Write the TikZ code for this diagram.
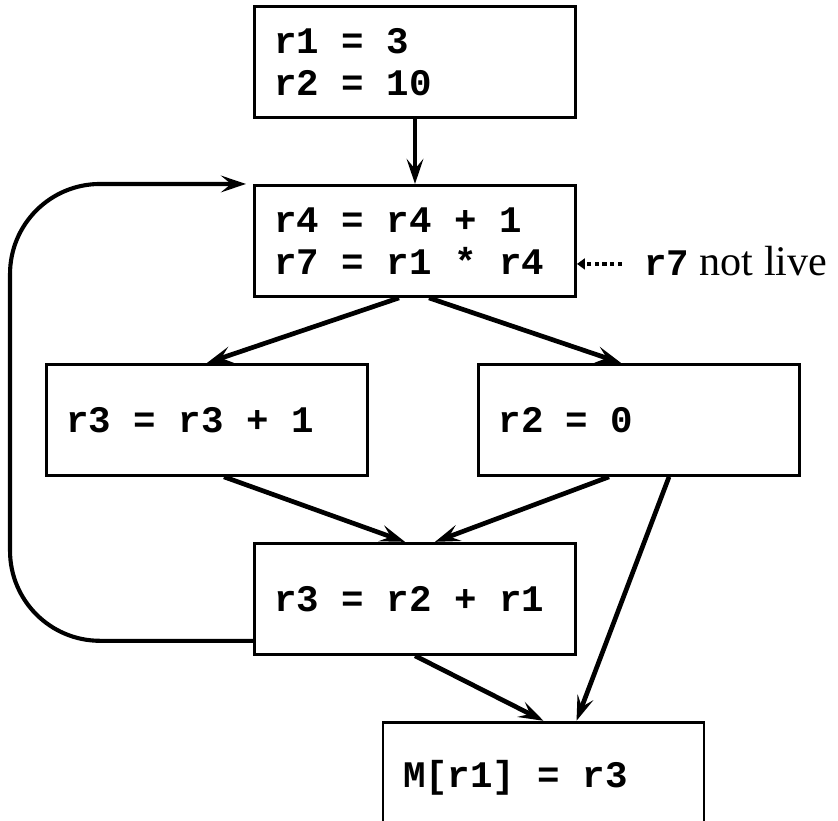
\documentclass[tikz,border=0pt]{standalone}
\usepackage{fontspec}
\setmainfont{Liberation Serif}
\setmonofont{Liberation Mono}
\usetikzlibrary{positioning,arrows.meta,calc}
\protected\def\codefont{\fontsize{32}{36}\selectfont\ttfamily\bfseries}
\newcommand{\sk}{\hspace{0.6em}}

\begin{document}
\begin{tikzpicture}[x=0.03cm, y=-0.03cm, node distance=1.95cm,
  font=\fontsize{32}{36}\selectfont,
  blk/.style={draw, line width=2.5pt, minimum width=9.63cm, minimum height=3.33cm,
    text width=8.43cm, inner xsep=0.6cm, align=left, font=\codefont},
  arr/.style={-{Stealth[length=0.75cm, width=0.5cm, inset=0.3cm]}, line width=4pt},
  back/.style={arr, line width=3.5pt, rounded corners=2.7cm},
  note/.style={-{Triangle[length=0.24cm, width=0.33cm]}, line width=3.6pt, dash pattern=on 3.6pt off 3pt}]
\useasboundingbox (0,0) rectangle (838,821);
\clip (0,0) rectangle (838,821);
\node[blk] (b1) at (415,62) {r1\sk=\sk3\\r2\sk=\sk10};
\node[blk, below=of b1] (b2) {r4\sk=\sk r4\sk+\sk1\\r7\sk=\sk r1\sk*\sk r4};
\node[blk, below=of b2, xshift=-6.24cm] (b3) {r3\sk=\sk r3\sk+\sk1};
\node[blk, below=of b2, xshift=6.72cm]  (b4) {r2\sk=\sk0};
\node[blk, below=of b3, xshift=6.24cm]  (b5) {r3\sk=\sk r2\sk+\sk r1};
\node[blk, below=of b5, xshift=3.855cm] (b6) {M[r1]\sk=\sk r3};
\draw[arr] (b1) -- (b2);
\draw[arr] ($(b2.south)+(-16,0)$) -- (b3.north);
\draw[arr] ($(b2.south)+(14,0)$) -- ($(b4.north)+(-18,0)$);
\draw[arr] ($(b3.south)+(17,0)$) -- ($(b5.north)+(-10,0)$);
\draw[arr] ($(b4.south)+(-30,0)$) -- ($(b5.north)+(20,0)$);
\draw[arr] (b5.south) -- (b6.north);
\draw[arr] ($(b4.south)+(30,0)$) -- ($(b6.north)+(33,0)$);
% back edge of the loop
\draw[back] ($(b5.west)+(0,42)$) -| ($(b2.north west)+(-243,0)$) -- ($(b2.north west)+(-7,0)$);
% liveness remark
\node[anchor=base west, inner sep=0pt, font=\fontsize{36}{40}\selectfont] (lbl) at ($(b2.east)+(67,35)$)
  {{\codefont r7} not live};
\coordinate (n) at ($(lbl.base west)+(-22,-12)$);
\draw[note] (n) -- (n -| b2.east);
\end{tikzpicture}
\end{document}
